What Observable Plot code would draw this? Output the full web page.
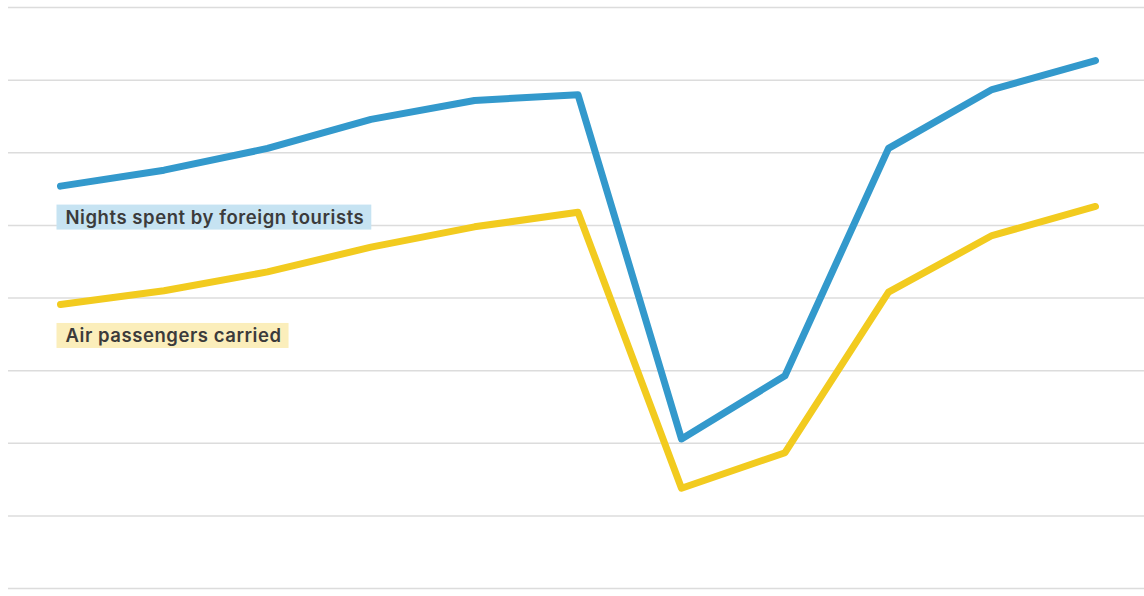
<!DOCTYPE html>
<html>
<head>
<meta charset="utf-8">
<script src="https://cdn.jsdelivr.net/npm/d3@7"></script>
<script src="https://cdn.jsdelivr.net/npm/@observablehq/plot@0.6"></script>
<style>
  html, body { margin: 0; padding: 0; background: #fff; }
  #chart svg { display: block; }
  .series-label text { letter-spacing: 0.55px; }
</style>
</head>
<body>
<div id="chart"></div>
<script>
const years = [2012, 2013, 2014, 2015, 2016, 2017, 2018, 2019, 2020, 2021, 2022];
const nightsSpent = [55.4, 57.6, 60.6, 64.6, 67.2, 68.0, 20.6, 29.3, 60.6, 68.7, 72.7];
const airPassengers = [39.1, 41.0, 43.6, 47.0, 49.8, 51.8, 13.8, 18.7, 40.8, 48.6, 52.6];
const gridTicks = [0, 10, 20, 30, 40, 50, 60, 70, 80];
const seriesNames = ["Nights spent by foreign tourists", "Air passengers carried"];
const seriesColors = ["#3399cc", "#f2cb1f"];
const labelBg = ["#c6e3f2", "#fbeebb"];

const rows = [];
years.forEach((yr, i) => {
  rows.push({year: yr, value: nightsSpent[i], series: seriesNames[0]});
  rows.push({year: yr, value: airPassengers[i], series: seriesNames[1]});
});
const firstPoints = seriesNames.map((s, k) => ({
  year: years[0],
  value: k === 0 ? nightsSpent[0] : airPassengers[0],
  series: s
}));

const chart = Plot.plot({
  width: 1144,
  height: 596,
  marginLeft: 8,
  marginRight: 0,
  marginTop: 7,
  marginBottom: 8,
  x: {domain: [years[0], years[years.length - 1]], range: [60, 1095], axis: null},
  y: {domain: [0, 80], axis: null},
  color: {domain: seriesNames, range: seriesColors},
  style: {fontFamily: "Inter, 'Open Sans', sans-serif"},
  marks: [
    Plot.ruleY(gridTicks, {stroke: "#dcdcdc", strokeWidth: 1.5}),
    Plot.line(rows, {x: "year", y: "value", z: "series", stroke: "series",
      strokeWidth: 7, strokeLinecap: "round", strokeLinejoin: "round"}),
    Plot.text(firstPoints, {x: "year", y: "value", text: "series",
      dx: 5, dy: 32, textAnchor: "start", fill: "#3b3b3b",
      fontSize: 18.5, fontWeight: 600, className: "series-label"})
  ]
});
document.getElementById("chart").appendChild(chart);

// background boxes behind labels
const labels = chart.querySelectorAll("g.series-label text");
labels.forEach((t, k) => {
  const b = t.getBBox();
  const rect = document.createElementNS("http://www.w3.org/2000/svg", "rect");
  const padL = 9, padR = 7;
  rect.setAttribute("x", b.x - padL);
  rect.setAttribute("width", b.width + padL + padR);
  const cy = b.y + b.height / 2;
  rect.setAttribute("y", cy - 12.5);
  rect.setAttribute("height", 25);
  rect.setAttribute("fill", labelBg[k]);
  const tr = t.getAttribute("transform");
  if (tr) rect.setAttribute("transform", tr);
  t.parentNode.insertBefore(rect, t);
});
</script>
</body>
</html>
